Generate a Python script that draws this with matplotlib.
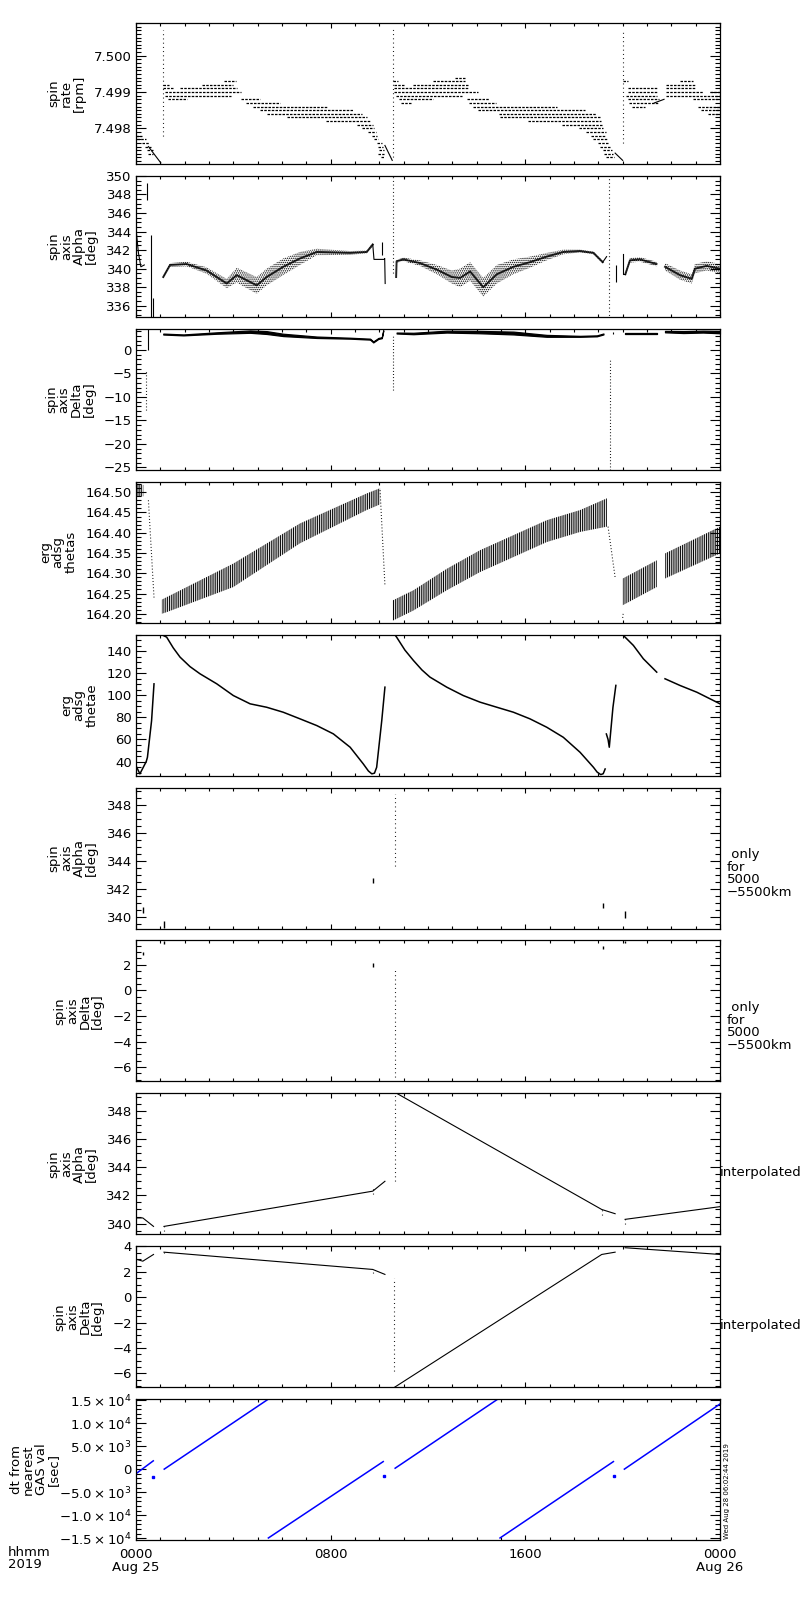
import matplotlib
matplotlib.use('Agg')
import matplotlib.pyplot as plt
from matplotlib.ticker import MultipleLocator, FixedLocator, FuncFormatter, FormatStrFormatter

plt.rcParams['font.family'] = ['DejaVu Sans']
plt.rcParams['axes.linewidth'] = 0.9
plt.rcParams['hatch.linewidth'] = 0.7
plt.rcParams['mathtext.fontset'] = 'dejavusans'
ftsz = 9.5

# ---------------- data (hours since 2019-08-25 00:00) ----------------
# panel 1: spin rate, quantised levels seen as dashed rows
p1_lvl = [7.4978, 7.4977, 7.4976, 7.4975, 7.4974, 7.4973,
          7.4992, 7.4991, 7.4993, 7.4992, 7.4991, 7.4990, 7.4989, 7.4988, 7.4988, 7.4987,
          7.4986, 7.4985, 7.4984, 7.4983, 7.4982, 7.4981, 7.4980, 7.4979, 7.4978, 7.4977,
          7.4976, 7.4975, 7.4974, 7.4973, 7.4972,
          7.4993, 7.4992, 7.4992, 7.4994, 7.4993, 7.4991, 7.4990, 7.4989, 7.4988, 7.4988,
          7.4987, 7.4987, 7.4986, 7.4985, 7.4984, 7.4983, 7.4982, 7.4981, 7.4980, 7.4979,
          7.4978, 7.4977, 7.4976, 7.4975, 7.4974, 7.4973, 7.4972,
          7.4993, 7.4991, 7.4990, 7.4989, 7.4988, 7.4987, 7.4986, 7.4993, 7.4992, 7.4991,
          7.4990, 7.4989, 7.4988, 7.4990, 7.4986, 7.4985, 7.4984]
p1_t0 = [0.00, 0.05, 0.25, 0.35, 0.45, 0.50,
         1.12, 1.12, 3.60, 2.70, 1.80, 1.20, 1.20, 1.30, 4.30, 4.50,
         4.80, 5.10, 5.40, 6.20, 7.80, 9.10, 9.30, 9.55, 9.70, 9.80,
         9.90, 9.95, 10.00, 9.95, 10.05,
         10.55, 10.60, 11.40, 13.10, 12.20, 10.60, 10.60, 10.70, 10.80, 13.60,
         10.90, 13.70, 13.85, 14.05, 14.90, 14.95, 16.10, 17.50, 18.20, 18.50,
         18.70, 18.80, 19.00, 19.05, 19.20, 19.25, 19.30,
         20.03, 20.20, 20.20, 20.15, 20.20, 20.25, 20.40, 22.36, 21.80, 21.80,
         21.80, 21.80, 22.90, 23.60, 23.10, 23.20, 23.50]
p1_t1 = [0.25, 0.42, 0.55, 0.62, 0.68, 0.70,
         1.35, 1.50, 4.10, 4.00, 4.15, 4.30, 3.90, 2.10, 5.10, 5.90,
         7.85, 8.90, 9.30, 9.50, 9.60, 9.75, 9.80, 9.87, 9.90, 9.95,
         10.10, 10.15, 10.20, 10.20, 10.20,
         10.75, 11.05, 13.65, 13.50, 13.50, 13.70, 14.07, 13.40, 12.20, 14.50,
         11.30, 14.80, 17.30, 18.45, 18.90, 19.10, 19.10, 19.20, 19.20, 19.30,
         19.30, 19.40, 19.45, 19.50, 19.55, 19.60, 19.65,
         20.20, 21.40, 21.40, 21.40, 21.50, 21.50, 20.90, 22.90, 23.00, 23.00,
         23.30, 24.00, 24.00, 24.00, 24.00, 24.00, 24.00]
p1_line_t = [[0.51, 1.02], [10.23, 10.53], [19.69, 20.00], [21.30, 21.70]]
p1_line_v = [[7.4975, 7.49705], [7.49753, 7.49712], [7.49732, 7.49712], [7.4987, 7.4988]]
p1_spike_t = [1.12, 10.55, 20.03]
p1_spike_lo = [7.4978, 7.4972, 7.4976]
p1_spike_hi = [7.5007, 7.5008, 7.5007]

# panel 2: spin axis alpha (scatter bands + pieces)
p2_band_t = [[1.12, 1.40, 2.08, 2.90, 3.73, 4.14, 4.96, 5.37, 6.05, 6.74, 7.43, 8.80, 9.48, 9.73],
             [10.69, 10.71, 10.99, 11.67, 12.36, 12.98, 13.32, 13.73, 14.27, 14.83, 15.51, 16.19,
              16.88, 17.56, 18.25, 18.80, 19.18],
             [20.11, 20.30, 20.71, 21.39],
             [21.74, 22.36, 22.84, 22.97, 23.45, 24.00]]
p2_band_lo = [[338.9, 340.2, 340.25, 339.45, 337.9, 338.5, 337.3, 338.2, 339.3, 340.4, 341.45, 341.5, 341.65, 342.4],
              [338.95, 340.65, 340.8, 340.3, 339.4, 338.4, 338.0, 338.7, 337.0, 338.4, 339.4, 340.1,
               340.9, 341.55, 341.75, 341.55, 340.55],
              [339.2, 340.65, 340.75, 340.25],
              [339.8, 338.8, 338.4, 339.5, 339.8, 339.5]]
p2_band_hi = [[339.3, 340.6, 340.75, 340.15, 338.9, 340.1, 339.1, 340.0, 341.1, 341.8, 342.15, 341.9, 341.95, 342.8],
              [339.25, 340.95, 341.2, 340.9, 340.4, 339.8, 340.0, 340.7, 339.0, 340.4, 341.0, 341.3,
               341.7, 342.05, 342.05, 341.85, 340.85],
              [339.6, 341.15, 341.25, 340.75],
              [340.6, 339.8, 339.4, 340.5, 340.8, 340.5]]
p2_line_t = [[0.02, 0.10, 0.20, 0.34], [9.73, 9.78, 10.20, 10.22, 10.24], [19.18, 19.34],
             [20.02, 20.02, 20.11]]
p2_line_v = [[343.8, 341.7, 340.2, 340.4], [342.6, 341.0, 341.0, 341.1, 338.4], [340.7, 341.3],
             [341.6, 339.4, 339.4]]
p2_spike_t = [0.44, 0.60, 0.71, 10.10, 10.58, 19.45, 19.71]
p2_spike_lo = [347.4, 334.6, 334.6, 341.5, 339.5, 334.6, 338.6]
p2_spike_hi = [349.2, 343.6, 336.8, 342.9, 350.2, 350.2, 340.4]
p2_spike_dotted = [False, False, False, False, True, True, False]

# panel 3: spin axis delta
p3_band_t = [[1.12, 1.95, 3.32, 4.69, 5.37, 6.05, 7.43, 8.80, 9.62, 9.75, 9.96, 10.10, 10.16],
             [10.71, 11.40, 12.77, 14.14, 15.51, 16.88, 18.25, 18.94, 19.21],
             [20.10, 21.40],
             [21.74, 22.50, 23.30, 24.00]]
p3_band_v = [[3.38, 3.2, 3.6, 3.9, 3.7, 3.2, 2.7, 2.5, 2.3, 1.7, 2.45, 2.6, 4.1],
             [3.6, 3.5, 3.9, 3.8, 3.6, 3.0, 2.9, 3.0, 3.4],
             [3.6, 3.6],
             [3.9, 3.8, 3.9, 3.8]]
p3_band_w = [[0.1, 0.1, 0.15, 0.25, 0.3, 0.25, 0.15, 0.1, 0.1, 0.1, 0.1, 0.1, 0.1],
             [0.1, 0.15, 0.2, 0.25, 0.3, 0.2, 0.1, 0.1, 0.1],
             [0.1, 0.1],
             [0.15, 0.2, 0.2, 0.25]]
p3_spike_t = [0.02, 0.42, 0.49, 10.58, 19.47, 19.62]
p3_spike_lo = [0.3, -12.8, 0.0, -8.5, -25.6, 3.3]
p3_spike_hi = [2.3, -4.2, 4.4, 3.4, -2.0, 3.9]
p3_spike_dotted = [False, True, False, True, True, False]

# panel 4: erg adsg thetas (sawtooth bands)
p4_band_t = [[1.06, 1.26, 4.00, 6.74, 9.48, 10.03],
             [10.55, 11.40, 12.77, 14.14, 15.51, 16.88, 18.25, 19.35],
             [20.00, 21.40],
             [21.74, 24.00],
             [0.00, 0.30]]
p4_band_lo = [[164.200, 164.204, 164.266, 164.374, 164.456, 164.470],
              [164.183, 164.208, 164.258, 164.303, 164.340, 164.377, 164.402, 164.415],
              [164.221, 164.266],
              [164.287, 164.349],
              [164.488, 164.490]]
p4_band_hi = [[164.235, 164.241, 164.324, 164.423, 164.497, 164.510],
              [164.233, 164.258, 164.311, 164.357, 164.394, 164.431, 164.456, 164.485],
              [164.287, 164.332],
              [164.349, 164.415],
              [164.522, 164.518]]
p4_drop_t = [[0.51, 0.74], [10.03, 10.23], [19.40, 19.69], [20.00, 20.02]]
p4_drop_v = [[164.48, 164.24], [164.505, 164.27], [164.415, 164.29], [164.19, 164.20]]

# panel 5: erg adsg thetae
p5_t = [[0.03, 0.16, 0.42, 0.47, 0.64, 0.74],
        [1.12, 1.26, 1.53, 1.81, 2.22, 2.63, 3.32, 4.00, 4.69, 5.37, 6.05, 6.74, 7.43, 8.11, 8.80,
         9.34, 9.55, 9.69, 9.80, 9.89, 10.10, 10.23],
        [10.65, 10.71, 11.05, 11.40, 11.75, 12.08, 12.77, 13.45, 14.14, 14.83, 15.51, 16.19, 16.88,
         17.56, 18.25, 18.80, 18.95, 19.10, 19.20, 19.28],
        [19.33, 19.40, 19.45, 19.60, 19.72],
        [20.03, 20.44, 20.85, 21.40],
        [21.74, 22.36, 23.05, 23.73, 24.00]]
p5_v = [[34.8, 28.9, 40.0, 43.9, 77.0, 110.4],
        [154.2, 152.7, 143.0, 134.6, 126.0, 119.5, 110.4, 99.8, 92.3, 89.2, 84.7, 78.7, 72.6, 65.1,
         53.0, 37.9, 31.5, 28.9, 29.5, 34.8, 77.2, 107.4],
        [154.5, 152.7, 141.0, 131.6, 123.0, 116.5, 107.4, 99.8, 93.8, 89.2, 84.7, 78.7, 71.1,
         62.0, 48.4, 34.8, 30.5, 28.2, 29.0, 33.3],
        [65.0, 60.0, 53.0, 89.0, 109.0],
        [154.2, 145.2, 133.1, 121.0],
        [115.0, 108.9, 102.8, 95.3, 92.3]]

# panels 6 / 7: only for 5000-5500 km (short marks)
p6_t = [0.28, 1.15, 9.73, 10.65, 19.18, 20.10]
p6_lo = [340.3, 339.2, 342.4, 343.6, 340.6, 339.9]
p6_hi = [340.7, 339.7, 342.8, 348.8, 341.0, 340.4]
p7_t = [0.28, 1.15, 9.73, 10.65, 19.18, 20.10]
p7_lo = [2.8, 3.6, 1.85, -6.8, 3.25, 3.7]
p7_hi = [3.0, 3.9, 2.15, 1.6, 3.45, 3.9]
p67_dotted = [False, False, False, True, False, False]

# panels 8 / 9: interpolated
p8_t = [[0.03, 0.28, 0.72], [1.15, 9.73, 10.23], [10.65, 19.14, 19.69], [20.10, 24.00]]
p8_v = [[340.4, 340.4, 339.8], [339.8, 342.3, 343.0], [349.3, 341.0, 340.7], [340.3, 341.2]]
p8_spike_t = [1.15, 9.73, 10.63, 19.16, 20.10]
p8_spike_lo = [339.5, 342.1, 343.0, 340.6, 340.0]
p8_spike_hi = [339.9, 342.6, 349.2, 341.0, 340.4]
p9_t = [[0.03, 0.28, 0.72], [1.15, 9.73, 10.23], [10.63, 19.14, 19.69], [20.10, 24.00]]
p9_v = [[2.98, 2.84, 3.37], [3.55, 2.19, 1.80], [-7.08, 3.37, 3.55], [3.90, 3.37]]
p9_spike_t = [1.15, 9.73, 10.60]
p9_spike_lo = [3.5, 1.9, -5.8]
p9_spike_hi = [3.8, 2.2, 1.5]

# panel 10: dt from nearest GAS value [s]
p10_t = [[0.03, 0.71], [1.16, 5.44], [5.44, 10.16], [10.65, 14.87], [14.96, 19.62], [20.07, 24.00]]
p10_v = [[-870, 1800], [0, 15200], [-14940, 1640], [200, 15200], [-14940, 1640], [0, 14140]]
p10_pt_t = [0.71, 10.19, 19.66]
p10_pt_v = [-1600, -1450, -1450]

ylabels = ['spin\nrate\n[rpm]', 'spin\naxis\nAlpha\n[deg]', 'spin\naxis\nDelta\n[deg]',
           'erg\nadsg\nthetas', 'erg\nadsg\nthetae', 'spin\naxis\nAlpha\n[deg]',
           'spin\naxis\nDelta\n[deg]', 'spin\naxis\nAlpha\n[deg]', 'spin\naxis\nDelta\n[deg]',
           'dt from\nnearest\nGAS val\n[sec]']
ylims = [(7.49702, 7.5009), (334.8, 350.0), (-25.5, 4.5), (164.178, 164.526), (27.3, 155.0),
         (339.17, 349.24), (-7.12, 3.91), (339.24, 349.24), (-7.08, 4.02), (-15400, 15200)]
ymajor = [0.001, 2, 5, 0.05, 20, 2, 2, 2, 2, 5000]
yminor = [0.0001, 0.5, 1, 0.01, 5, 0.5, 0.5, 0.5, 0.5, 1000]
xtick_pos = [0, 8, 16, 24]
xtick_lab = ['0000\nAug 25', '0800', '1600', '0000\nAug 26']


def sci_fmt(x, pos):
    if abs(x) < 1e-6:
        return '0'
    e = 4 if abs(x) >= 1e4 else 3
    m = x / 10 ** e
    s = r'$%.1f\times10^{%d}$' % (abs(m), e)
    return ('\u2212' if x < 0 else '') + s


def int_fmt(x, pos):
    return ('%d' % round(x)).replace('-', '\u2212')


fig = plt.figure(figsize=(8, 16), dpi=100)
axes = []
for i in range(10):
    top = 23 + i * 152.9
    ax = fig.add_axes([136 / 800, 1 - (top + 141) / 1600, 584 / 800, 141 / 1600])
    axes.append(ax)

k = 'black'
lw = 0.8

# panel 1
ax = axes[0]
ax.hlines(p1_lvl, p1_t0, p1_t1, colors=k, linewidth=0.9, linestyles=(0, (2.0, 1.0)))
for t, v in zip(p1_line_t, p1_line_v):
    ax.plot(t, v, color=k, lw=lw)
ax.vlines(p1_spike_t, p1_spike_lo, p1_spike_hi, colors=k, linewidth=0.8, linestyles=(0, (0.8, 3)))

# panel 2
ax = axes[1]
for t, lo, hi in zip(p2_band_t, p2_band_lo, p2_band_hi):
    ax.fill_between(t, lo, hi, facecolor='white', edgecolor=k, hatch='........', linewidth=0)
    ax.plot(t, [(a + b) / 2 for a, b in zip(lo, hi)], color=k, lw=1.4, alpha=0.85)
for t, v in zip(p2_line_t, p2_line_v):
    ax.plot(t, v, color=k, lw=lw)
for t, lo, hi, d in zip(p2_spike_t, p2_spike_lo, p2_spike_hi, p2_spike_dotted):
    ax.vlines(t, lo, hi, colors=k, linewidth=0.8, linestyles=(0, (0.8, 2.5)) if d else '-')

# panel 3
ax = axes[2]
for t, v, w in zip(p3_band_t, p3_band_v, p3_band_w):
    ax.fill_between(t, [a - b for a, b in zip(v, w)], [a + b for a, b in zip(v, w)],
                    color=k, linewidth=0.9)
for t, lo, hi, d in zip(p3_spike_t, p3_spike_lo, p3_spike_hi, p3_spike_dotted):
    ax.vlines(t, lo, hi, colors=k, linewidth=0.8, linestyles=(0, (0.8, 2.0)) if d else '-')

# panel 4
ax = axes[3]
for t, lo, hi in zip(p4_band_t, p4_band_lo, p4_band_hi):
    ax.fill_between(t, lo, hi, facecolor='white', edgecolor=k, hatch='|||||||||', linewidth=0)
for t, v in zip(p4_drop_t, p4_drop_v):
    ax.plot(t, v, color=k, lw=0.8, ls=(0, (0.8, 2.0)))

# panel 5
ax = axes[4]
for t, v in zip(p5_t, p5_v):
    ax.plot(t, v, color=k, lw=1.1)

# panels 6 / 7
for ax, lo, hi, t in [(axes[5], p6_lo, p6_hi, p6_t), (axes[6], p7_lo, p7_hi, p7_t)]:
    for tt, a, b, d in zip(t, lo, hi, p67_dotted):
        ax.vlines(tt, a, b, colors=k, linewidth=1.0 if not d else 0.8,
                  linestyles=(0, (0.8, 3)) if d else '-')

# panels 8 / 9
ax = axes[7]
for t, v in zip(p8_t, p8_v):
    ax.plot(t, v, color=k, lw=lw)
ax.vlines(p8_spike_t, p8_spike_lo, p8_spike_hi, colors=k, linewidth=0.8, linestyles=(0, (0.8, 3)))
ax = axes[8]
for t, v in zip(p9_t, p9_v):
    ax.plot(t, v, color=k, lw=lw)
ax.vlines(p9_spike_t, p9_spike_lo, p9_spike_hi, colors=k, linewidth=0.8, linestyles=(0, (0.8, 3)))

# panel 10
ax = axes[9]
for t, v in zip(p10_t, p10_v):
    ax.plot(t, v, color='#0000ff', lw=1.1)
ax.plot(p10_pt_t, p10_pt_v, ls='none', marker='s', ms=1.5, color='#0000ff')

# axes styling
for i, ax in enumerate(axes):
    ax.set_xlim(0, 24)
    ax.set_ylim(*ylims[i])
    ax.xaxis.set_major_locator(FixedLocator(xtick_pos))
    ax.xaxis.set_minor_locator(MultipleLocator(1))
    ax.yaxis.set_major_locator(MultipleLocator(ymajor[i]))
    ax.yaxis.set_minor_locator(MultipleLocator(yminor[i]))
    ax.tick_params(axis='both', which='both', direction='in', top=True, right=True,
                   labelsize=ftsz, width=0.8)
    ax.tick_params(axis='y', which='major', length=7, pad=3)
    ax.tick_params(axis='y', which='minor', length=3.5)
    ax.tick_params(axis='x', which='major', length=3.3, pad=6)
    ax.tick_params(axis='x', which='minor', length=2)
    ax.set_ylabel(ylabels[i], fontsize=ftsz, linespacing=0.95, labelpad=6)
    if i < 9:
        ax.tick_params(axis='x', labelbottom=False)
    else:
        ax.set_xticklabels(xtick_lab, linespacing=0.95)

axes[0].yaxis.set_major_formatter(FormatStrFormatter('%.3f'))
axes[3].yaxis.set_major_formatter(FormatStrFormatter('%.2f'))
for j in [1, 2, 4, 5, 6, 7, 8]:
    axes[j].yaxis.set_major_formatter(FuncFormatter(int_fmt))
axes[9].yaxis.set_major_formatter(FuncFormatter(sci_fmt))
axes[9].yaxis.set_label_coords(-0.13, 0.5)

for j, y in [(5, 0.39), (6, 0.39)]:
    axes[j].text(1.012, y, ' only\nfor\n5000\n\u22125500km', transform=axes[j].transAxes,
                 ha='left', va='center', fontsize=ftsz, linespacing=0.95)
for j, y in [(7, 0.44), (8, 0.44)]:
    axes[j].text(1.0, y, 'interpolated', transform=axes[j].transAxes,
                 ha='left', va='center', fontsize=ftsz)

axes[9].text(1.006, 0.01, 'Wed Aug 28 06:02:44 2019', transform=axes[9].transAxes,
             rotation=90, ha='left', va='bottom', fontsize=5)
fig.text(8 / 800, 1 - 1546 / 1600, 'hhmm\n2019', ha='left', va='top', fontsize=ftsz,
         linespacing=0.95)

plt.savefig('out.png', dpi=100)
